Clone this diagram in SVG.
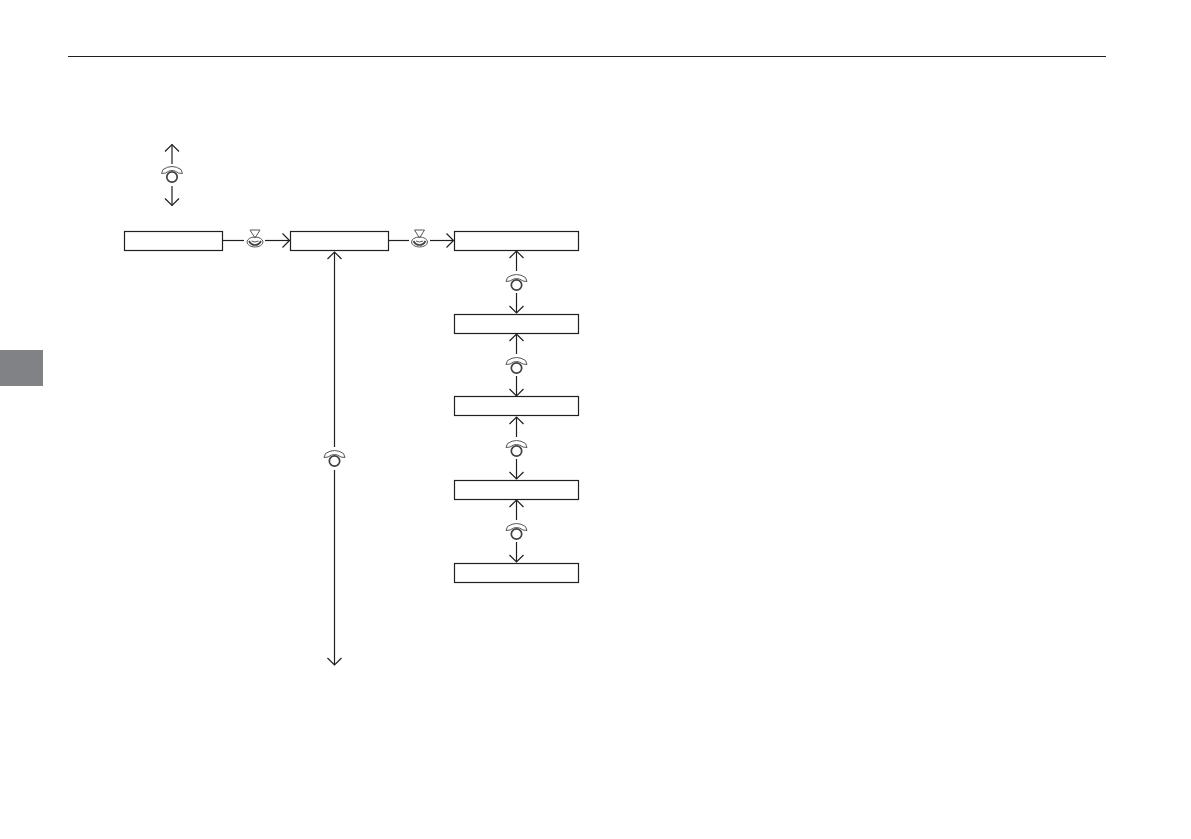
<svg xmlns="http://www.w3.org/2000/svg" width="1191" height="839" viewBox="0 0 1191 839">
<style>
.box{fill:#fff;stroke:#231f20;stroke-width:1.2}
.ln{fill:none;stroke:#231f20;stroke-width:1.2}
.ic{fill:none;stroke:#58595b;stroke-width:1}
.ic2{fill:none;stroke:#414042;stroke-width:1.7}
</style>
<defs>
<marker id="arr" markerUnits="userSpaceOnUse" markerWidth="18" markerHeight="18" refX="9" refY="9" orient="auto"><path d="M2 2L9 9L2 16" fill="none" stroke="#231f20" stroke-width="1.2"/></marker>
<g id="dial"><path class="ic" d="M-9-7.500Q0-13.500 9-7.500M-6.500-4Q0-9 6.500-4M-9-7.500L-10.500-3.500L-6.500-4M9-7.500L10.500-3.500L6.500-4"/><circle class="ic2" cx="0" cy="0" r="5.200"/></g>
<g id="press"><path class="ic" d="M-5-12H5L0-4Z"/><ellipse class="ic" cx="0" cy="0" rx="8" ry="5"/><path class="ic2" d="M-6-1Q-4 3 0 3Q4 3 6-1"/><path class="ic" d="M-3.500-1Q0 1 3.500-1"/></g>
</defs>
<rect id="side-tab" x="0" y="350" width="43" height="36" fill="#808285"/>
<line id="top-rule" x1="68" y1="56.500" x2="1106" y2="56.500" stroke="#231f20" stroke-width="1.200"/>
<g id="connectors">
<path class="ln" d="M172 164V144.500" marker-end="url(#arr)"/>
<path class="ln" d="M172 186V205.500" marker-end="url(#arr)"/>
<path class="ln" d="M223 240.500H244"/>
<path class="ln" d="M265 240.500H289.500" marker-end="url(#arr)"/>
<path class="ln" d="M388 240.500H409"/>
<path class="ln" d="M430 240.500H453.500" marker-end="url(#arr)"/>
<path class="ln" d="M334.500 447V252" marker-end="url(#arr)"/>
<path class="ln" d="M334.500 470V665" marker-end="url(#arr)"/>
<path class="ln" d="M516.500 271V251" marker-end="url(#arr)"/>
<path class="ln" d="M516.500 293V313" marker-end="url(#arr)"/>
<path class="ln" d="M516.500 354V334" marker-end="url(#arr)"/>
<path class="ln" d="M516.500 376V396" marker-end="url(#arr)"/>
<path class="ln" d="M516.500 437V417" marker-end="url(#arr)"/>
<path class="ln" d="M516.500 459V479" marker-end="url(#arr)"/>
<path class="ln" d="M516.500 520V500" marker-end="url(#arr)"/>
<path class="ln" d="M516.500 542V562" marker-end="url(#arr)"/>
</g>
<g id="node-1"><rect class="box" x="124.500" y="231.500" width="98" height="19"/></g>
<g id="node-2"><rect class="box" x="290.500" y="231.500" width="98" height="19"/></g>
<g id="node-3"><rect class="box" x="454.500" y="231.500" width="124" height="19"/></g>
<g id="node-4"><rect class="box" x="454.500" y="314.500" width="124" height="19"/></g>
<g id="node-5"><rect class="box" x="454.500" y="396.500" width="124" height="19"/></g>
<g id="node-6"><rect class="box" x="454.500" y="480.500" width="124" height="19"/></g>
<g id="node-7"><rect class="box" x="454.500" y="563.500" width="124" height="19"/></g>
<g id="icons">
<use href="#dial" x="172" y="177"/>
<use href="#press" x="255" y="242"/>
<use href="#press" x="419.500" y="242"/>
<use href="#dial" x="334.500" y="461"/>
<use href="#dial" x="516.500" y="285"/>
<use href="#dial" x="516.500" y="368"/>
<use href="#dial" x="516.500" y="451"/>
<use href="#dial" x="516.500" y="534"/>
</g>
</svg>
